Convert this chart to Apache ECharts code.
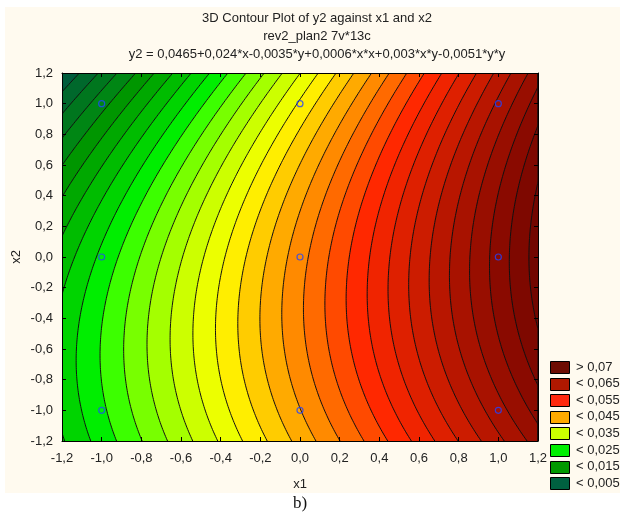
<!DOCTYPE html>
<html><head><meta charset="utf-8">
<script src="https://cdn.jsdelivr.net/npm/echarts@6/dist/echarts.min.js"></script>
<style>
html,body{margin:0;padding:0;background:#fff;}
#bg{position:absolute;left:5px;top:7px;width:615px;height:486px;background:#fffaef;}
#chart{position:absolute;left:0;top:0;width:620px;height:517px;}
</style></head><body>
<div id="bg"></div><div id="chart"></div>
<script>
// ---- data ----
const titleLines = ['3D Contour Plot of y2 against x1 and x2', 'rev2_plan2 7v*13c',
  'y2 = 0,0465+0,024*x-0,0035*y+0,0006*x*x+0,003*x*y-0,0051*y*y'];
// fitted surface coefficients: b0, bx, by, bxx, bxy, byy
const coef = [0.0465, 0.024, -0.0035, 0.0006, 0.003, -0.0051];
const levels = [0.0025, 0.005, 0.0075, 0.01, 0.0125, 0.015, 0.0175, 0.02, 0.0225, 0.025,
  0.0275, 0.03, 0.0325, 0.035, 0.0375, 0.04, 0.0425, 0.045, 0.0475, 0.05,
  0.0525, 0.055, 0.0575, 0.06, 0.0625, 0.065, 0.0675, 0.07, 0.0725, 0.075];
const designX = [-1, -1, -1, 0, 0, 0, 1, 1, 1];
const designY = [-1, 0, 1, -1, 0, 1, -1, 0, 1];
const legendLabels = ['> 0,07', '< 0,065', '< 0,055', '< 0,045', '< 0,035', '< 0,025', '< 0,015', '< 0,005'];
const xName = 'x1', yName = 'x2', caption = 'b)';

// ---- style ----
const bandColors = ['#004c3c', '#005c3c', '#00682c', '#00761e', '#008614', '#009600', '#00a800', '#00bc00',
  '#00d400', '#00ee00', '#3cff00', '#78ff00', '#a4ff00', '#ccff00', '#ecff00', '#ffee00', '#ffcc00',
  '#ffaa00', '#ff8a00', '#ff6a00', '#ff4a00', '#ff2800', '#f02400', '#de2000', '#cc1c00', '#b81600',
  '#a81200', '#980e00', '#8a0a00', '#7e0800', '#720600'];
const legendColors = ['#6e0c02', '#b01800', '#ff2a10', '#ffaa00', '#ccff00', '#00ee00', '#009800', '#006040'];
const FONT = 'Liberation Sans, Arial, sans-serif';
const FS = 13;
const TXT = '#222';
const XMIN = -1.2, XMAX = 1.2;

function contourX(L, y) {
  const a = coef[3], b = coef[1] + coef[4] * y, c = coef[0] + coef[2] * y + coef[5] * y * y;
  const d = L - c;
  return 2 * d / (b + Math.sqrt(b * b + 4 * a * d));
}
const clampX = v => Math.max(XMIN, Math.min(XMAX, v));
const ys = [];
for (let i = 0; i <= 160; i++) ys.push(XMIN + (XMAX - XMIN) * i / 160);

const fmt = v => { let s = (Math.round(v * 10) / 10).toFixed(1).replace('.', ','); return s === '-0,0' ? '0,0' : s; };

const chart = echarts.init(document.getElementById('chart'), null, {renderer: 'canvas'});

const axisCommon = {
  type: 'value', min: -1.2, max: 1.2, interval: 0.2, z: 10,
  axisLine: {show: true, onZero: false, lineStyle: {color: '#000', width: 1}},
  axisTick: {show: true, inside: true, length: 4, lineStyle: {color: '#000'}},
  splitLine: {show: false},
  axisLabel: {fontSize: FS, color: TXT, fontFamily: FONT, formatter: fmt}
};

const graphics = [];
titleLines.forEach((t, i) => graphics.push({
  type: 'text', x: 317, y: 18 + i * 18,
  style: {text: t, fill: TXT, font: FS + 'px ' + FONT, textAlign: 'center', textVerticalAlign: 'middle'}
}));
legendLabels.forEach((t, i) => {
  const yy = 367 + i * 16.6;
  graphics.push({type: 'rect', shape: {x: 550.5, y: Math.round(yy - 6) + 0.5, width: 19, height: 12},
    style: {fill: legendColors[i], stroke: '#000', lineWidth: 1}});
  graphics.push({type: 'text', x: 576, y: yy,
    style: {text: t, fill: TXT, font: FS + 'px ' + FONT, textVerticalAlign: 'middle'}});
});
graphics.push({type: 'text', x: 300, y: 484, style: {text: xName, fill: TXT, font: FS + 'px ' + FONT, textAlign: 'center', textVerticalAlign: 'middle'}});
graphics.push({type: 'text', x: 16, y: 257, rotation: Math.PI / 2, style: {text: yName, fill: TXT, font: FS + 'px ' + FONT, textAlign: 'center', textVerticalAlign: 'middle'}});
graphics.push({type: 'text', x: 300, y: 504, style: {text: caption, fill: '#111', font: '17px Liberation Serif, Times New Roman, serif', textAlign: 'center', textVerticalAlign: 'middle'}});

chart.setOption({
  animation: false,
  grid: {left: 62, top: 73, width: 476, height: 368},
  xAxis: [
    Object.assign({}, axisCommon, {position: 'bottom', axisLabel: Object.assign({}, axisCommon.axisLabel, {margin: 11})}),
    Object.assign({}, axisCommon, {position: 'top', axisLabel: {show: false}})
  ],
  yAxis: [
    Object.assign({}, axisCommon, {position: 'left', axisLabel: Object.assign({}, axisCommon.axisLabel, {margin: 9})}),
    Object.assign({}, axisCommon, {position: 'right', axisLabel: {show: false}})
  ],
  graphic: graphics,
  series: [
    {
      type: 'custom', name: 'bands', clip: true, z: 1,
      encode: {x: 0, y: 1},
      data: bandColors.map((c, k) => [0, 0, k]),
      renderItem: function (params, api) {
        const k = api.value(2);
        let pts;
        if (k === 0) {
          pts = [[XMIN, XMIN], [XMAX, XMIN], [XMAX, XMAX], [XMIN, XMAX]].map(p => api.coord(p));
        } else {
          const L = levels[k - 1];
          pts = ys.map(y => api.coord([clampX(contourX(L, y)), y]));
          pts.push(api.coord([XMAX, XMAX]));
          pts.push(api.coord([XMAX, XMIN]));
        }
        return {type: 'polygon', shape: {points: pts}, style: {fill: bandColors[k], stroke: bandColors[k], lineWidth: 0.5}};
      }
    },
    {
      type: 'custom', name: 'lines', clip: true, z: 2,
      encode: {x: 0, y: 1},
      data: levels.map((L, k) => [0, 0, k]),
      renderItem: function (params, api) {
        const L = levels[api.value(2)];
        const pts = ys.map(y => api.coord([clampX(contourX(L, y)), y]));
        return {type: 'polyline', shape: {points: pts}, style: {stroke: '#111', fill: null, lineWidth: 1}};
      }
    },
    {
      type: 'scatter', name: 'design', z: 3,
      symbol: 'circle', symbolSize: 6,
      itemStyle: {color: 'rgba(0,0,0,0)', borderColor: '#2244ff', borderWidth: 1.2},
      data: designX.map((x, i) => [x, designY[i]])
    }
  ]
});
</script></body></html>
